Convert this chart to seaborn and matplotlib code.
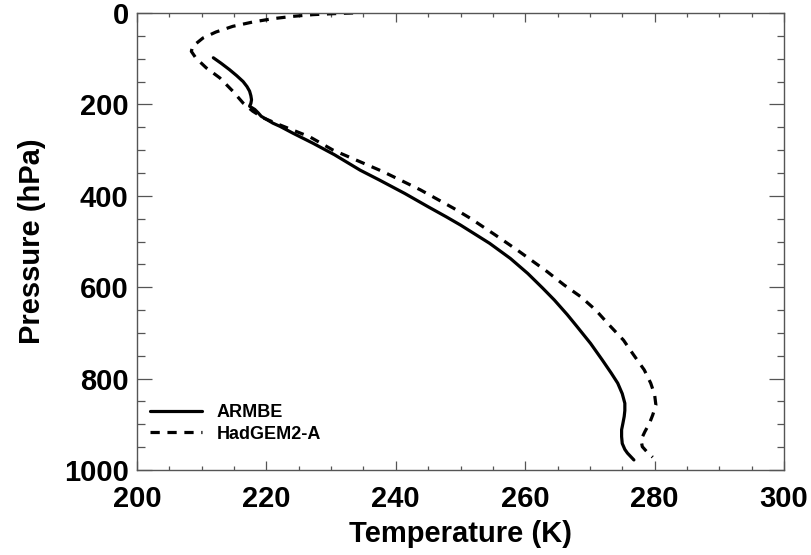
import matplotlib
matplotlib.use("Agg")
import matplotlib.pyplot as plt
from matplotlib.ticker import MultipleLocator
import seaborn as sns
import pandas as pd

# ARMBE (solid) profile: temperature (K) vs pressure (hPa)
armbe_p = [98, 110, 124, 137, 150, 161, 171, 181, 190, 198, 204, 211, 218, 226,
           241, 248, 263, 285, 310, 344, 365, 395, 424, 446, 464, 504, 537, 570,
           602, 628, 660, 686, 723, 759, 788, 810, 833, 854, 870, 883, 898, 912,
           927, 942, 955, 963, 978]
armbe_t = [211.8, 213.0, 214.3, 215.4, 216.4, 217.0, 217.4, 217.6, 217.7, 217.6,
           217.4, 218.2, 218.7, 219.2, 221.0, 222.1, 224.1, 227.2, 230.5, 234.5,
           237.4, 241.4, 245.0, 247.8, 250.0, 254.5, 257.7, 260.4, 262.7, 264.5,
           266.5, 268.0, 270.1, 271.9, 273.3, 274.3, 275.0, 275.4, 275.4, 275.3,
           275.1, 274.9, 274.9, 275.0, 275.4, 275.8, 276.8]

# HadGEM2-A (dashed) profile
had_p = [0, 1.5, 3.6, 7.3, 12.4, 19.7, 29.2, 41.6, 54.7, 73, 84, 98.5, 120, 142,
         171, 197, 215, 230, 245, 271, 300, 347, 369, 387, 427, 449, 485, 519,
         566, 595, 621, 650, 683, 716, 745, 781, 810, 835, 858, 880, 898, 916,
         934, 949, 960, 972]
had_t = [233.4, 230.3, 227.2, 224.1, 221.0, 217.9, 214.8, 212.2, 210.2, 208.6,
         208.4, 209.1, 210.7, 212.8, 214.8, 216.4, 217.9, 219.6, 222.1, 226.7,
         230.3, 238.0, 241.2, 243.8, 248.9, 251.5, 255.3, 258.8, 263.4, 266.0,
         268.6, 270.9, 273.0, 275.2, 276.6, 278.4, 279.4, 280.0, 280.2, 279.7,
         279.2, 278.5, 277.9, 278.1, 278.8, 279.7]

series_names = ["ARMBE", "HadGEM2-A"]

x_ticks = [200, 220, 240, 260, 280, 300]
y_ticks = [0, 200, 400, 600, 800, 1000]

df = pd.concat([
    pd.DataFrame({"T": armbe_t, "p": armbe_p, "name": series_names[0]}),
    pd.DataFrame({"T": had_t, "p": had_p, "name": series_names[1]}),
], ignore_index=True)

sns.set_theme(style="ticks")
plt.rcParams["font.family"] = ["Liberation Sans", "DejaVu Sans"]
plt.rcParams["font.weight"] = "bold"
plt.rcParams["text.color"] = "black"
plt.rcParams["axes.labelcolor"] = "black"
plt.rcParams["xtick.labelcolor"] = "black"
plt.rcParams["ytick.labelcolor"] = "black"

fig = plt.figure(figsize=(8.12, 5.55), dpi=100)
ax = fig.add_axes([137 / 812, 1 - 470 / 555, 647 / 812, 457 / 555])

sns.lineplot(data=df, x="T", y="p", hue="name", style="name", sort=False,
             estimator=None, palette=["black", "black"],
             dashes={"ARMBE": "", "HadGEM2-A": (2.9, 2.4)},
             linewidth=2.3, ax=ax)

ax.set_xlim(200, 300)
ax.set_ylim(1000, 0)
ax.set_xticks(x_ticks)
ax.set_yticks(y_ticks)
ax.xaxis.set_minor_locator(MultipleLocator(5))
ax.yaxis.set_minor_locator(MultipleLocator(50))
ax.tick_params(axis="both", which="both", direction="in", top=True, right=True,
               color="#555555", width=0.9, labelcolor="black")
ax.tick_params(axis="x", which="major", length=6.5, labelsize=21, pad=11)
ax.tick_params(axis="x", which="minor", length=3)
ax.tick_params(axis="y", which="major", length=10.5, labelsize=21, pad=6)
ax.tick_params(axis="y", which="minor", length=5.4)
for lbl in ax.get_xticklabels() + ax.get_yticklabels():
    lbl.set_fontweight("bold")
for s in ax.spines.values():
    s.set_color("#555555")
    s.set_linewidth(1.0)

ax.set_xlabel("Temperature (K)", fontsize=21, fontweight="bold", labelpad=5,
              color="black")
ax.set_ylabel("Pressure (hPa)", fontsize=21, fontweight="bold", labelpad=13,
              color="black")

handles, labels = ax.get_legend_handles_labels()
leg = ax.legend(handles, labels, loc="lower left", bbox_to_anchor=(0.02, 0.06),
                frameon=False, fontsize=13, handlelength=2.9, handletextpad=0.8,
                borderpad=0, borderaxespad=0, labelspacing=0.25)
for t in leg.get_texts():
    t.set_fontweight("bold")
    t.set_color("black")
for h in leg.get_lines():
    h.set_linewidth(2.3)

fig.savefig("out.png", dpi=100)
